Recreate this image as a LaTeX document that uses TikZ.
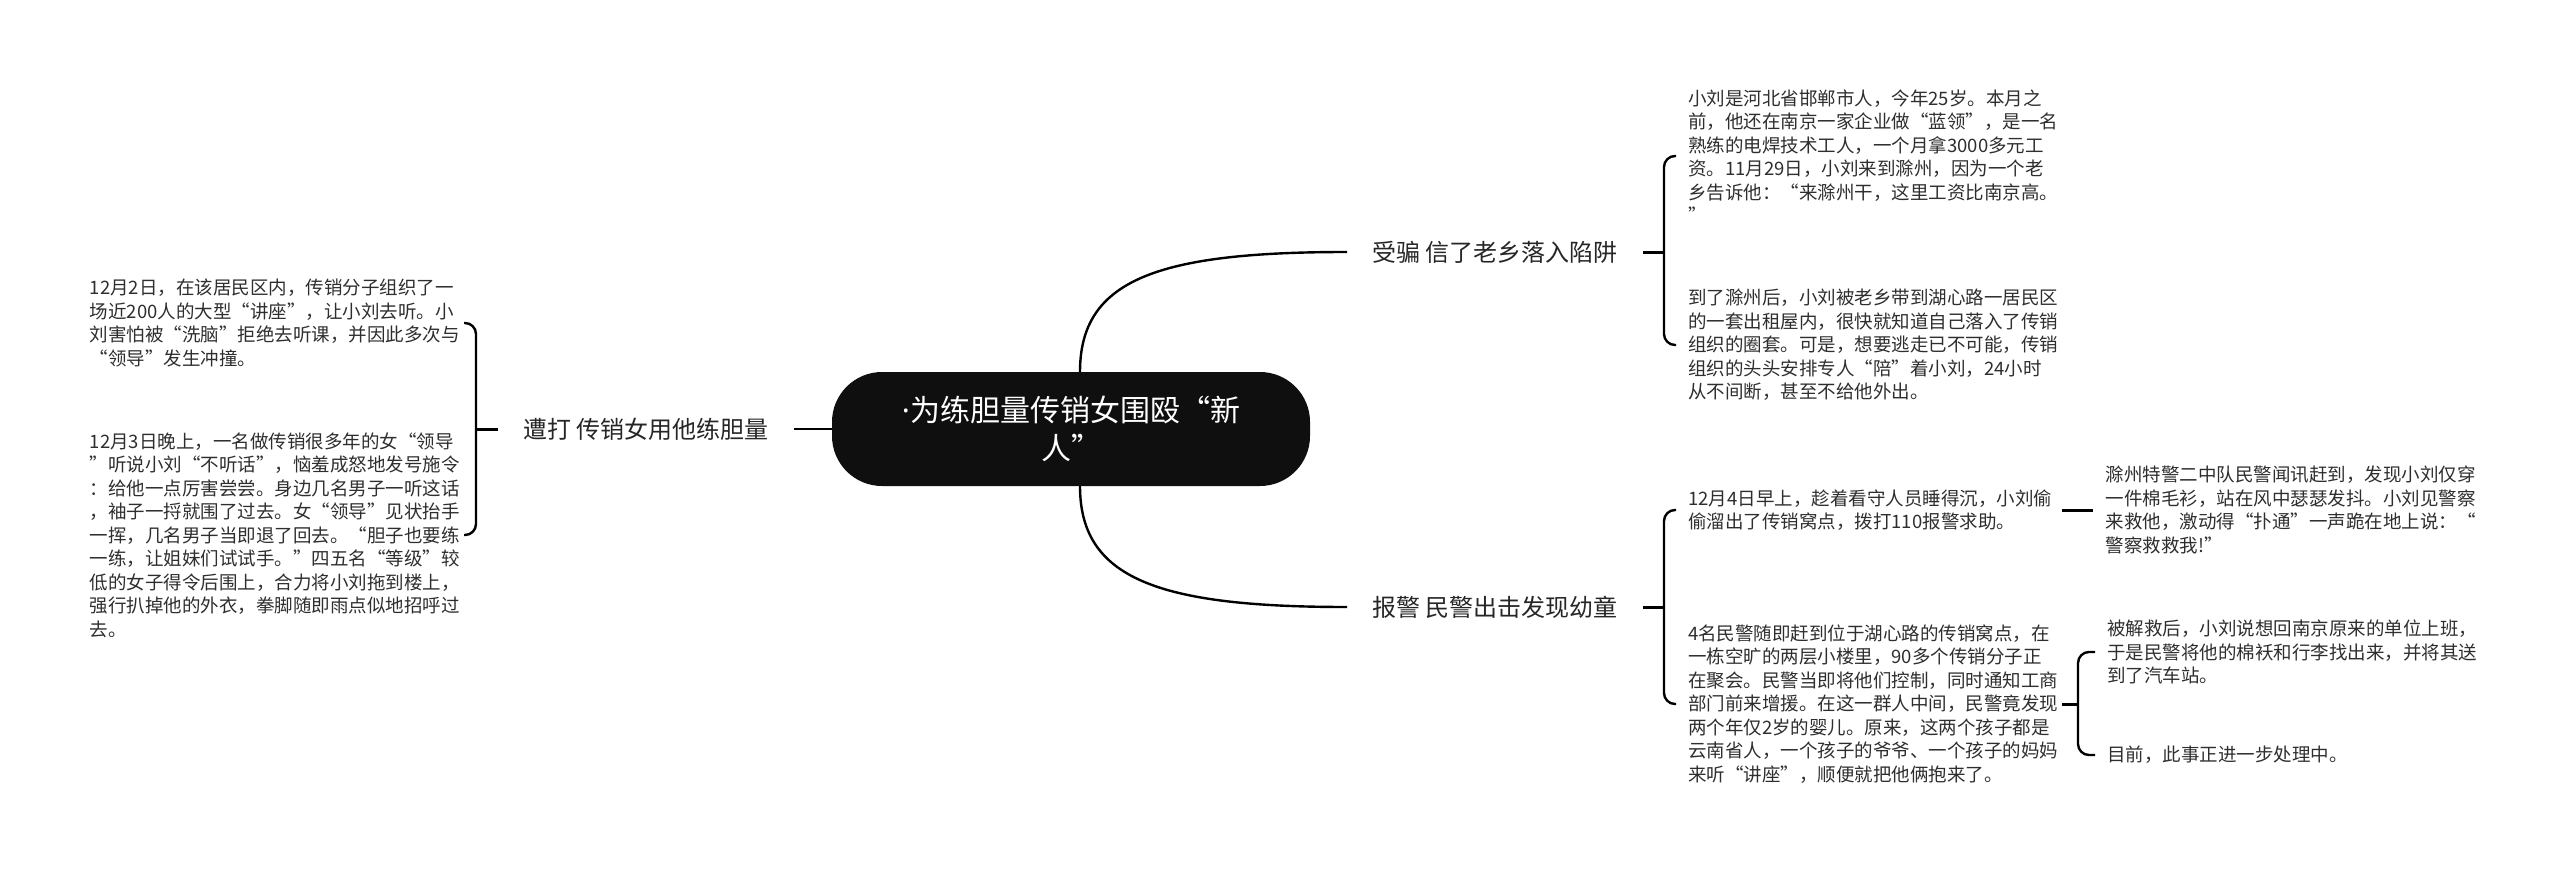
\documentclass[tikz,border=0pt]{standalone}
\usepackage{fontspec}
\setmainfont{Noto Sans CJK SC}
\newfontfamily\latinfont{Noto Sans}
\usetikzlibrary{positioning,calc}

\begin{document}
\begin{tikzpicture}[
    x=1pt, y=1pt,
    node distance=30pt and 30pt,
    hubbox/.style={fill=black!94, text=white, rounded corners=50pt,
        minimum width=478pt, minimum height=114pt, align=center,
        font={\fontsize{30pt}{38pt}\selectfont}},
    lab/.style={inner xsep=25pt, inner ysep=4pt, text=black!85,
        font={\fontsize{24pt}{29pt}\selectfont}},
    note/.style={text width=362pt, align=left, inner xsep=12pt, inner ysep=0pt,
        text=black!82, font={\fontsize{18.5pt}{23.5pt}\selectfont}},
    limb/.style={line width=2.4pt, draw=black},
    tick/.style={line width=3pt, draw=black},
    brace/.style={line width=2.4pt, draw=black, rounded corners=11pt},
]
\useasboundingbox (0,0) rectangle (2560,-872);

\node[hubbox] (hub) at (1071,-429) {{\latinfont ·}为练胆量传销女围殴“新\\人”};
\node[lab, left=38pt of hub] (beat) {遭打 传销女用他练胆量};
\node[lab, anchor=west] (cheat) at (1347,-252) {受骗 信了老乡落入陷阱};
\node[lab, anchor=west] (report) at (1347,-607) {报警 民警出击发现幼童};

\node[note, anchor=east] (beatA) at (464,-323) {12月2日，在该居民区内，传销分子组织了一\\场近200人的大型“讲座”，让小刘去听。小\\刘害怕被“洗脑”拒绝去听课，并因此多次与\\“领导”发生冲撞。};
\node[note, anchor=east] (beatB) at (464,-535) {12月3日晚上，一名做传销很多年的女“领导\\”听说小刘“不听话”，恼羞成怒地发号施令\\：给他一点厉害尝尝。身边几名男子一听这话\\，袖子一捋就围了过去。女“领导”见状抬手\\一挥，几名男子当即退了回去。“胆子也要练\\一练，让姐妹们试试手。”四五名“等级”较\\低的女子得令后围上，合力将小刘拖到楼上，\\强行扒掉他的外衣，拳脚随即雨点似地招呼过\\去。};

\node[note, anchor=west] (cheatA) at (1676,-156) {小刘是河北省邯郸市人，今年25岁。本月之\\前，他还在南京一家企业做“蓝领”，是一名\\熟练的电焊技术工人，一个月拿3000多元工\\资。11月29日，小刘来到滁州，因为一个老\\乡告诉他：“来滁州干，这里工资比南京高。\\”};
\node[note, anchor=west] (cheatB) at (1676,-345) {到了滁州后，小刘被老乡带到湖心路一居民区\\的一套出租屋内，很快就知道自己落入了传销\\组织的圈套。可是，想要逃走已不可能，传销\\组织的头头安排专人“陪”着小刘，24小时\\从不间断，甚至不给他外出。};

\node[note, anchor=west] (reportA) at (1676,-510) {12月4日早上，趁着看守人员睡得沉，小刘偷\\偷溜出了传销窝点，拨打110报警求助。};
\node[note, anchor=west] (reportB) at (1676,-704) {4名民警随即赶到位于湖心路的传销窝点，在\\一栋空旷的两层小楼里，90多个传销分子正\\在聚会。民警当即将他们控制，同时通知工商\\部门前来增援。在这一群人中间，民警竟发现\\两个年仅2岁的婴儿。原来，这两个孩子都是\\云南省人，一个孩子的爷爷、一个孩子的妈妈\\来听“讲座”，顺便就把他俩抱来了。};
\node[note, right=31pt of reportA] (rescue) {滁州特警二中队民警闻讯赶到，发现小刘仅穿\\一件棉毛衫，站在风中瑟瑟发抖。小刘见警察\\来救他，激动得“扑通”一声跪在地上说：“\\警察救救我!”};
\node[note, anchor=west] (homeward) at (2095,-652) {被解救后，小刘说想回南京原来的单位上班，\\于是民警将他的棉袄和行李找出来，并将其送\\到了汽车站。};
\node[note, anchor=west] (now) at (2095,-755) {目前，此事正进一步处理中。};

\draw[limb] (hub.west) -- (beat.east);
\draw[limb] ([xshift=9pt]hub.north) .. controls +(0,92) and +(-190,0) .. (cheat.west);
\draw[limb] ([xshift=9pt]hub.south) .. controls +(0,-92) and +(-190,0) .. (report.west);

\draw[brace] (beatA.east) -- ++(12,0) |- (beatB.east);
\draw[tick] (beat.west) -- ($(beatA.east |- beat.west)+(12,0)$);
\draw[brace] (cheatA.west) -- ++(-12,0) |- (cheatB.west);
\draw[tick] (cheat.east) -- ($(cheatA.west |- cheat.east)+(-12,0)$);
\draw[brace] (reportA.west) -- ++(-12,0) |- (reportB.west);
\draw[tick] (report.east) -- ($(reportA.west |- report.east)+(-12,0)$);
\draw[tick] (reportA.east) -- (rescue.west);
\draw[brace] (homeward.west) -- ++(-17,0) |- (now.west);
\draw[tick] (reportB.east) -- ($(homeward.west |- reportB.east)+(-17,0)$);
\end{tikzpicture}
\end{document}
